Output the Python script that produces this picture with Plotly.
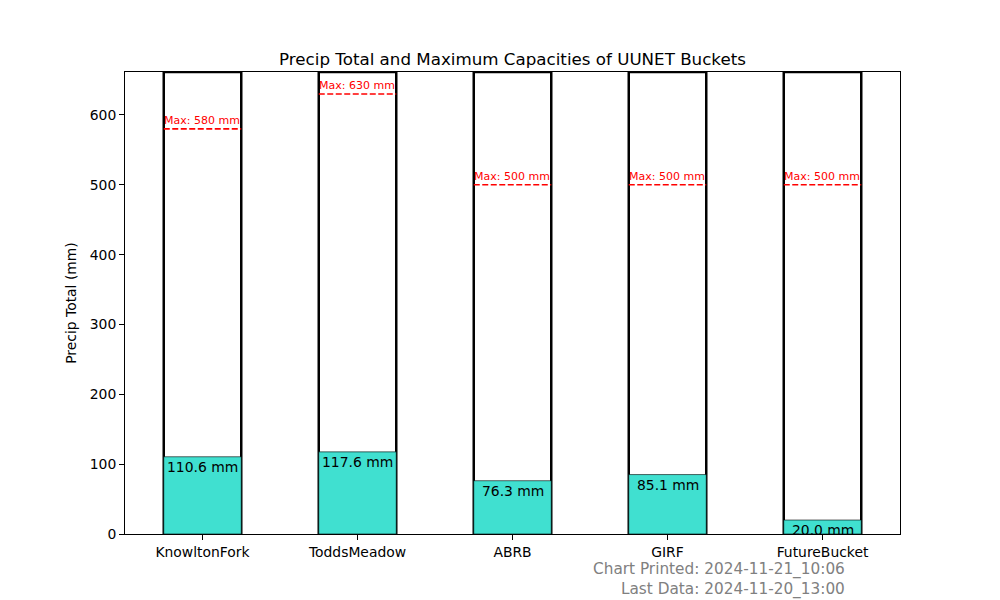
import plotly.graph_objects as go

buckets = ["KnowltonFork", "ToddsMeadow", "ABRB", "GIRF", "FutureBucket"]
precip_totals = [110.6, 117.6, 76.3, 85.1, 20.0]
max_capacities = [580, 630, 500, 500, 500]
printed = "2024-11-21_10:06"
last_data = "2024-11-20_13:00"

FONT = "DejaVu Sans"
BAR_W = 0.5
x_pos = list(range(len(buckets)))
y_top = max(max_capacities) * 1.05

fig = go.Figure()

# bucket outlines
fig.add_trace(go.Bar(
    x=x_pos,
    y=[y_top] * len(buckets),
    width=BAR_W,
    marker=dict(color="rgba(0,0,0,0)", line=dict(color="black", width=2.5)),
    showlegend=False,
    hoverinfo="skip"
))

# precip totals
fig.add_trace(go.Bar(
    x=x_pos,
    y=precip_totals,
    width=BAR_W,
    marker=dict(color="#40E0D0", line=dict(color="black", width=0.6)),
    showlegend=False
))

for i, (tot, cap) in enumerate(zip(precip_totals, max_capacities)):
    fig.add_trace(go.Scatter(
        x=[i - BAR_W / 2, i + BAR_W / 2],
        y=[cap, cap],
        mode="lines",
        line=dict(color="red", width=1.6, dash="6px,2.5px"),
        showlegend=False,
        hoverinfo="skip"
    ))
    fig.add_annotation(
        x=i - BAR_W / 2, y=cap,
        text=f"Max: {cap} mm",
        xanchor="left", yanchor="bottom",
        showarrow=False, borderpad=0,
        font=dict(family=FONT, size=11, color="red"),
        xshift=-1, yshift=1
    )
    fig.add_annotation(
        x=i, y=tot,
        text=f"{tot:.1f} mm",
        xanchor="center", yanchor="top",
        showarrow=False,
        font=dict(family=FONT, size=13.9, color="black")
    )

fig.add_annotation(
    xref="paper", yref="paper",
    x=(847 - 125) / 775, y=-0.053,
    text=f"Chart Printed: {printed}<br>Last Data: {last_data}",
    align="right", xanchor="right", yanchor="top",
    showarrow=False,
    font=dict(family=FONT, size=15.3, color="gray")
)

# page body has an 8px margin, so offsets are compensated here
fig.update_layout(
    width=1000, height=600,
    margin=dict(l=117, r=108, t=64, b=74),
    paper_bgcolor="white",
    plot_bgcolor="white",
    barmode="overlay",
    font=dict(family=FONT, size=13.9, color="black"),
    title=dict(
        text="Precip Total and Maximum Capacities of UUNET Buckets",
        x=504.5 / 1000, xanchor="center",
        y=1 - 51 / 600, yanchor="middle",
        font=dict(family=FONT, size=16.7, color="black")
    ),
    xaxis=dict(
        range=[-0.5, 4.5],
        tickmode="array", tickvals=x_pos, ticktext=buckets,
        showgrid=False, zeroline=False,
        showline=True, linecolor="black", linewidth=1, mirror=True,
        ticks="outside", ticklen=5, tickcolor="black"
    ),
    yaxis=dict(
        range=[0, y_top],
        tickmode="linear", tick0=0, dtick=100,
        title=dict(text="Precip Total (mm)", font=dict(family=FONT, size=13.9), standoff=9),
        showgrid=False, zeroline=False,
        showline=True, linecolor="black", linewidth=1, mirror=True,
        ticks="outside", ticklen=5, tickcolor="black"
    )
)

fig.write_html("out.html")
